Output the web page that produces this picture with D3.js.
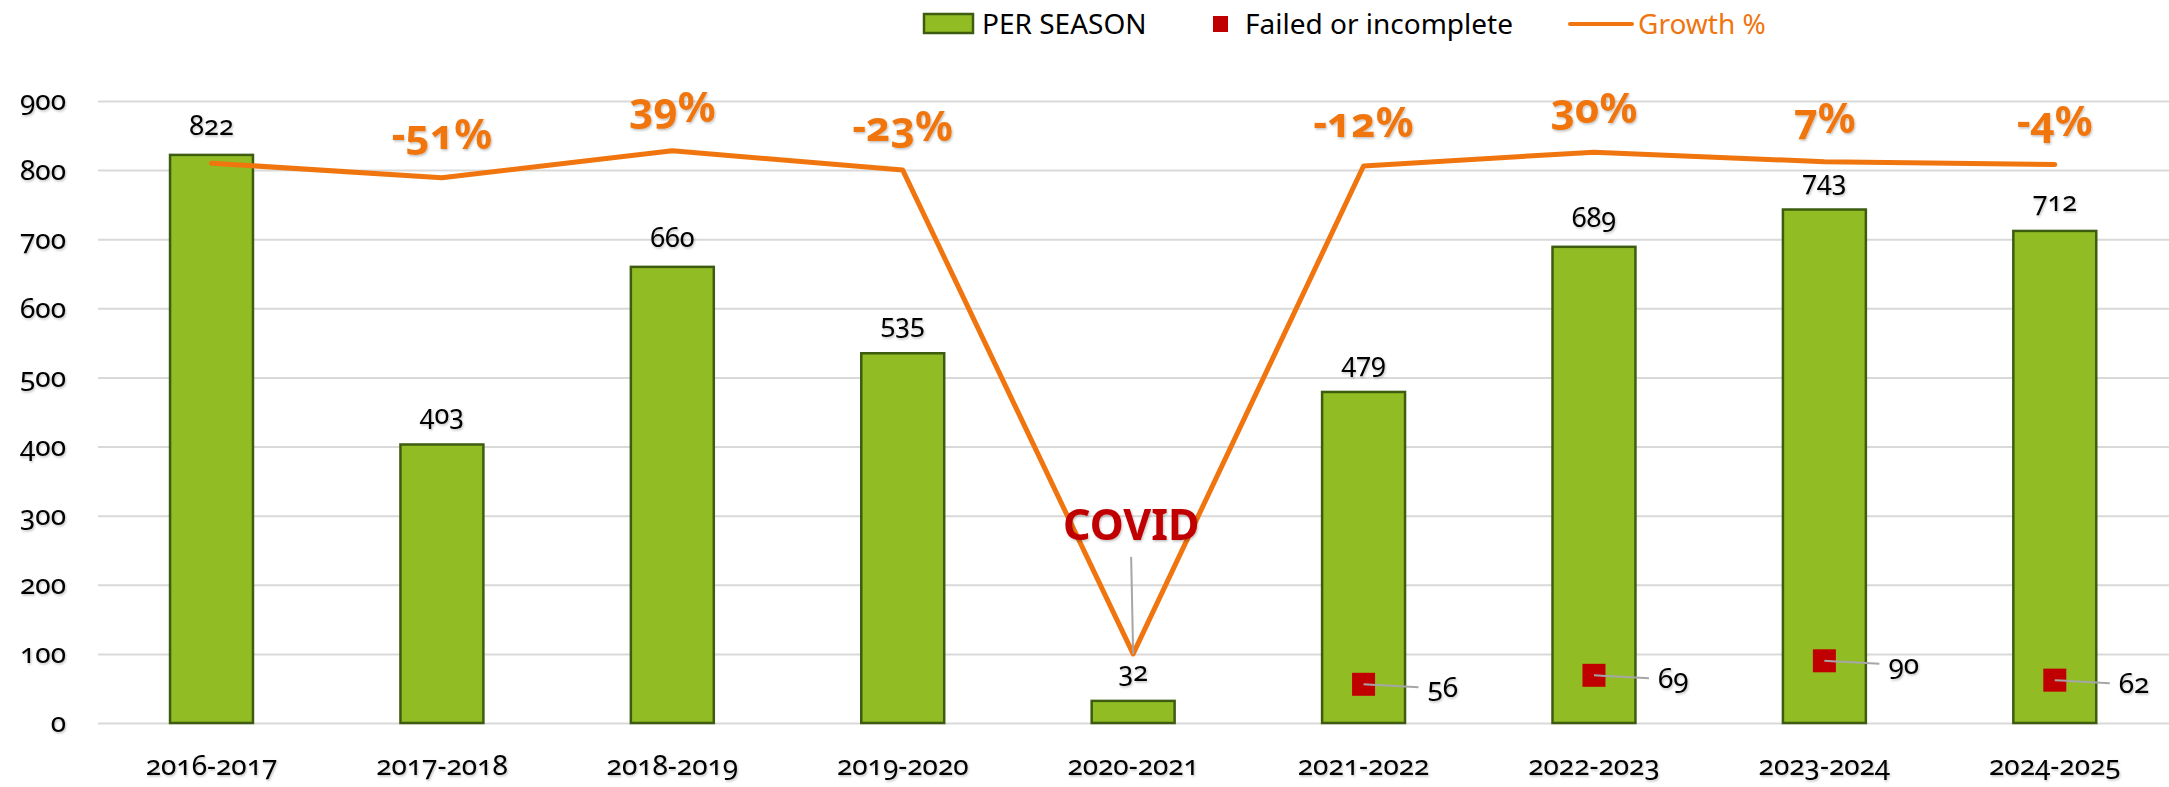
<!DOCTYPE html>
<html>
<head>
<meta charset="utf-8">
<script src="https://cdn.jsdelivr.net/npm/d3@7/dist/d3.min.js"></script>
<style>
  body { margin: 0; background: #fff; }
  text { font-family: "Noto Sans", sans-serif; font-variant-numeric: oldstyle-nums; }
</style>
</head>
<body>
<div class="canvas"></div>
<script>
// data
const seasons = ["2016-2017", "2017-2018", "2018-2019", "2019-2020", "2020-2021",
  "2021-2022", "2022-2023", "2023-2024", "2024-2025"];
const perSeason = [822, 403, 660, 535, 32, 479, 689, 743, 712];
const failed = [null, null, null, null, null, 56, 69, 90, 62];
// growth line as drawn against the left axis
const growthLine = [810, 789, 828, 800, 100, 806, 826, 812, 808];
const growthLabels = [null, "-51%", "39%", "-23%", null, "-12%", "30%", "7%", "-4%"];
const covidIndex = 4;
const yTicks = [0, 100, 200, 300, 400, 500, 600, 700, 800, 900];

// dimensions
const w = 2169;
const h = 787;
const plot = { left: 96.3, right: 2170, top: 101, bottom: 723 };

const green = "#92BC24";
const greenDark = "#3E5C10";
const orange = "#F0750F";
const red = "#C00000";
const grid = "#D9D9D9";

const svg = d3.select(".canvas").append("svg").attr("width", w).attr("height", h);

// soft text shadow like the original
const defs = svg.append("defs");
defs.append("filter").attr("id", "shadow")
  .attr("x", "-20%").attr("y", "-20%").attr("width", "140%").attr("height", "140%")
  .append("feDropShadow")
  .attr("dx", 1).attr("dy", 1.5).attr("stdDeviation", 1)
  .attr("flood-color", "#000").attr("flood-opacity", 0.25);

// scales
const x = d3.scaleBand().domain(seasons).range([plot.left, plot.right])
  .paddingInner(0.64).paddingOuter(0.32);
const y = d3.scaleLinear().domain([0, 900]).range([plot.bottom, plot.top]);
const cx = (i) => x(seasons[i]) + x.bandwidth() / 2;

// y axis with gridlines
const yAxis = svg.append("g")
  .attr("transform", `translate(${plot.left + 1.7}, 0)`)
  .call(d3.axisLeft(y).tickValues(yTicks).tickSize(-(plot.right - plot.left)).tickPadding(32));
yAxis.select(".domain").remove();
yAxis.selectAll(".tick line").attr("stroke", grid).attr("stroke-width", 2);
yAxis.selectAll(".tick text")
  .attr("font-size", 28).attr("fill", "#000")
  .attr("font-family", "Noto Sans").attr("filter", "url(#shadow)");

// x axis labels
const xAxis = svg.append("g")
  .attr("transform", `translate(0, ${plot.bottom})`)
  .call(d3.axisBottom(x).tickSize(0).tickPadding(32));
xAxis.select(".domain").remove();
xAxis.selectAll(".tick text")
  .attr("font-size", 28).attr("fill", "#000")
  .attr("font-family", "Noto Sans").attr("filter", "url(#shadow)");

// bars
svg.selectAll("rect.bar")
  .data(perSeason)
  .enter()
  .append("rect")
  .attr("class", "bar")
  .attr("x", (d, i) => x(seasons[i]))
  .attr("y", (d) => y(d))
  .attr("width", x.bandwidth())
  .attr("height", (d) => y(0) - y(d))
  .attr("fill", green)
  .attr("stroke", greenDark)
  .attr("stroke-width", 2.5);

// bar value labels
svg.selectAll("text.barLabel")
  .data(perSeason)
  .enter()
  .append("text")
  .attr("class", "barLabel")
  .attr("x", (d, i) => cx(i))
  .attr("y", (d) => y(d) - 20)
  .attr("text-anchor", "middle")
  .attr("font-size", 27)
  .attr("filter", "url(#shadow)")
  .text((d) => d);

// growth line
const line = d3.line().x((d, i) => cx(i)).y((d) => y(d));
svg.append("path")
  .datum(growthLine)
  .attr("d", line)
  .attr("fill", "none")
  .attr("stroke", orange)
  .attr("stroke-width", 5)
  .attr("stroke-linejoin", "round")
  .attr("stroke-linecap", "round");

// growth labels
svg.selectAll("text.growth")
  .data(growthLabels.map((t, i) => ({ t, i })).filter((d) => d.t))
  .enter()
  .append("text")
  .attr("class", "growth")
  .attr("x", (d) => cx(d.i))
  .attr("y", (d) => y(growthLine[d.i]) - 29)
  .attr("text-anchor", "middle")
  .attr("font-size", 42)
  .attr("font-weight", "bold")
  .attr("fill", orange)
  .attr("filter", "url(#shadow)")
  .text((d) => d.t);

// COVID annotation
const covidY = y(growthLine[covidIndex]);
svg.append("line")
  .attr("x1", cx(covidIndex) - 2).attr("y1", covidY - 97)
  .attr("x2", cx(covidIndex)).attr("y2", covidY)
  .attr("stroke", "#A6A6A6").attr("stroke-width", 2);
svg.append("text")
  .attr("x", cx(covidIndex) - 2)
  .attr("y", covidY - 114)
  .attr("text-anchor", "middle")
  .attr("font-size", 43)
  .attr("font-weight", "bold")
  .attr("fill", red)
  .attr("filter", "url(#shadow)")
  .text("COVID");

// failed or incomplete markers
const failedData = failed.map((v, i) => ({ v, i })).filter((d) => d.v != null);
svg.selectAll("line.leader")
  .data(failedData)
  .enter()
  .append("line")
  .attr("class", "leader")
  .attr("x1", (d) => cx(d.i)).attr("y1", (d) => y(d.v))
  .attr("x2", (d) => cx(d.i) + 55).attr("y2", (d) => y(d.v) + 3)
  .attr("stroke", "#A6A6A6").attr("stroke-width", 2);
svg.selectAll("rect.failed")
  .data(failedData)
  .enter()
  .append("rect")
  .attr("class", "failed")
  .attr("x", (d) => cx(d.i) - 11.5)
  .attr("y", (d) => y(d.v) - 11.5)
  .attr("width", 23)
  .attr("height", 23)
  .attr("fill", red);
// redraw leader start over the square
svg.selectAll("line.leader2")
  .data(failedData)
  .enter()
  .append("line")
  .attr("x1", (d) => cx(d.i)).attr("y1", (d) => y(d.v))
  .attr("x2", (d) => cx(d.i) + 12).attr("y2", (d) => y(d.v) + 0.7)
  .attr("stroke", "#A6A6A6").attr("stroke-width", 2);
svg.selectAll("text.failedLabel")
  .data(failedData)
  .enter()
  .append("text")
  .attr("x", (d) => cx(d.i) + 64)
  .attr("y", (d) => y(d.v) + 13)
  .attr("font-size", 28)
  .attr("filter", "url(#shadow)")
  .text((d) => d.v);

// legend
const legend = svg.append("g").attr("id", "legend");
legend.append("rect")
  .attr("x", 924).attr("y", 14).attr("width", 49).attr("height", 19)
  .attr("fill", green).attr("stroke", greenDark).attr("stroke-width", 2.5);
legend.append("text")
  .attr("x", 982).attr("y", 34).attr("font-size", 28)
  .text("PER SEASON");
legend.append("rect")
  .attr("x", 1213).attr("y", 16).attr("width", 15).attr("height", 16)
  .attr("fill", red);
legend.append("text")
  .attr("x", 1245).attr("y", 34).attr("font-size", 28)
  .text("Failed or incomplete");
legend.append("line")
  .attr("x1", 1570).attr("y1", 24).attr("x2", 1632).attr("y2", 24)
  .attr("stroke", orange).attr("stroke-width", 4).attr("stroke-linecap", "round");
legend.append("text")
  .attr("x", 1638).attr("y", 34).attr("font-size", 28).attr("fill", orange)
  .text("Growth %");
</script>
</body>
</html>
